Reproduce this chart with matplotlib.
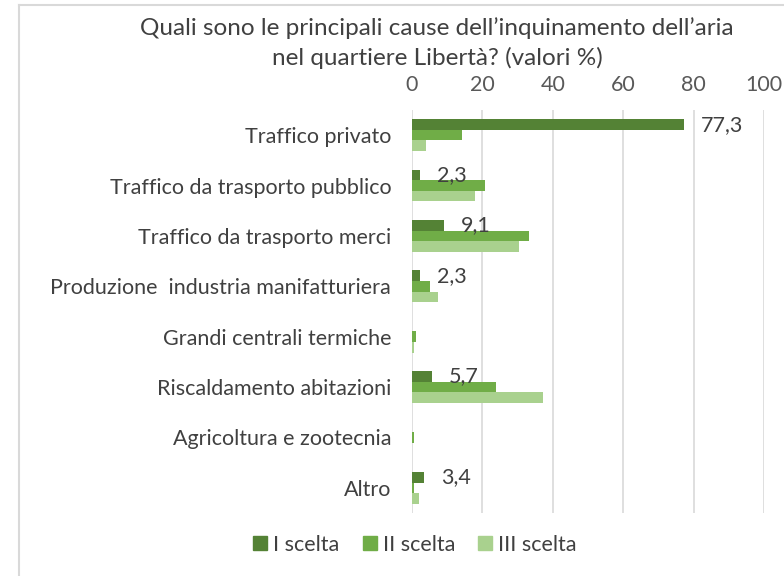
import matplotlib
matplotlib.use("Agg")
import matplotlib.pyplot as plt
import numpy as np
from matplotlib.lines import Line2D

categories = ["Traffico privato", "Traffico da trasporto pubblico", "Traffico da trasporto merci",
              "Produzione  industria manifatturiera", "Grandi centrali termiche",
              "Riscaldamento abitazioni", "Agricoltura e zootecnia", "Altro"]
scelta1 = [77.3, 2.3, 9.1, 2.3, 0.0, 5.7, 0.0, 3.4]
scelta2 = [14.1, 20.7, 33.1, 5.1, 1.1, 24.0, 0.7, 0.7]
scelta3 = [4.0, 17.9, 30.4, 7.5, 0.7, 37.3, 0.0, 2.0]
labels1 = ["77,3", "2,3", "9,1", "2,3", "", "5,7", "", "3,4"]
series_names = ["I scelta", "II scelta", "III scelta"]
xticks = [0, 20, 40, 60, 80, 100]

colors = ["#548235", "#70ad47", "#a9d18e"]
plt.rcParams['font.family'] = ['Lato', 'DejaVu Sans']
txt = "#404040"
fs = 15.5

fig = plt.figure(figsize=(7.84, 5.76), dpi=100)
ax = fig.add_axes([412/784, 1-513/576, 352/784, 403/576])

y = np.arange(len(categories))
h = 0.21
for vals, off, c in zip([scelta1, scelta2, scelta3], [-h, 0, h], colors):
    ax.barh(y + off, vals, height=h, color=c, zorder=3)

for yi, v, lab in zip(y, scelta1, labels1):
    if lab:
        ax.annotate(lab, (v, yi - h), xytext=(12, 0), textcoords="offset points",
                    ha="left", va="center", fontsize=fs, color=txt, zorder=4)

ax.set_ylim(len(categories) - 0.5, -0.5)
ax.set_xlim(0, 100)
ax.set_xticks(xticks)
ax.xaxis.tick_top()
ax.tick_params(axis="x", length=0, labelsize=fs, labelcolor="#595959", pad=11)
ax.set_yticks(y)
ax.set_yticklabels(categories)
ax.tick_params(axis="y", length=0, labelsize=fs, labelcolor=txt, pad=15)
ax.grid(axis="x", color="#d9d9d9", linewidth=1.2, zorder=0)
for s in ax.spines.values():
    s.set_visible(False)

fig.text(437/784, 1-28/576, "Quali sono le principali cause dell\u2019inquinamento dell\u2019aria",
         ha="center", va="center", fontsize=17.5, color="#404040")
fig.text(437/784, 1-58/576, "nel quartiere Libert\u00e0? (valori %)",
         ha="center", va="center", fontsize=17.5, color="#404040")

handles = [Line2D([], [], marker="s", linestyle="none", markersize=9.5, color=c) for c in colors]
fig.legend(handles, series_names, loc="center", bbox_to_anchor=(412/784, 1-545/576), ncol=3,
           frameon=False, fontsize=fs, labelcolor=txt, handletextpad=0.0, columnspacing=0.8,
           handlelength=1.2)

# frame
fig.add_artist(Line2D([19/784, 19/784], [0, 1-5/576], color="#d9d9d9", linewidth=1.5, transform=fig.transFigure))
fig.add_artist(Line2D([19/784, 1], [1-5/576, 1-5/576], color="#d9d9d9", linewidth=1.5, transform=fig.transFigure))

fig.savefig("out.png", dpi=100)
